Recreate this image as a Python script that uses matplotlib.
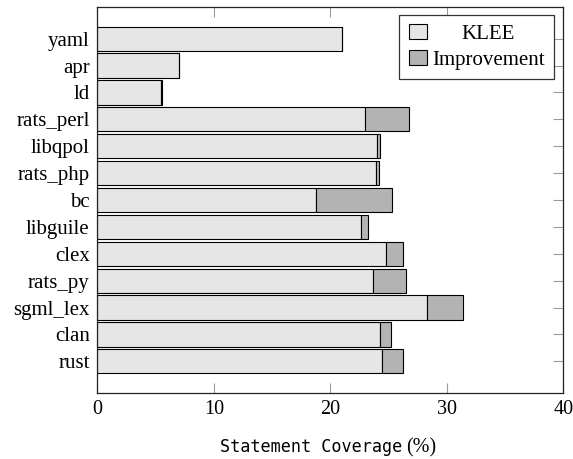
import matplotlib
matplotlib.use("Agg")
import matplotlib.pyplot as plt

# Data (top to bottom as shown)
categories = ["yaml", "apr", "ld", "rats_perl", "libqpol", "rats_php", "bc",
              "libguile", "clex", "rats_py", "sgml_lex", "clan", "rust"]
klee = [21.0, 7.0, 5.5, 23.0, 24.0, 23.9, 18.8, 22.6, 24.75, 23.7, 28.3, 24.25, 24.4]
improvement = [0.0, 0.0, 0.08, 3.75, 0.25, 0.25, 6.5, 0.65, 1.45, 2.8, 3.05, 1.0, 1.8]
xticks = [0, 10, 20, 30, 40]

serif = "Liberation Serif"
mono = "DejaVu Sans Mono"
fs = 15

fig = plt.figure(figsize=(5.73, 4.59), dpi=100)
ax = fig.add_axes([97.3 / 573, 1 - 393.3 / 459, (563.3 - 97.3) / 573, (393.3 - 6.7) / 459])

pos = list(range(len(categories)))
ax.barh(pos, klee, height=0.9, color="#e6e6e6", edgecolor="black", linewidth=0.8, label="KLEE")
ax.barh(pos, improvement, left=klee, height=0.9, color="#b3b3b3", edgecolor="black",
        linewidth=0.8, label="Improvement")

ax.set_yticks(pos)
ax.set_yticklabels(categories, fontfamily=serif, fontsize=fs)
ax.set_ylim(len(categories) - 1 + 1.19, -1.19)
ax.set_xlim(0, 40)
ax.set_xticks(xticks)
ax.set_xticklabels([str(v) for v in xticks], fontfamily=serif, fontsize=fs - 0.5)

tick_col = "#9a9a9a"
ax.tick_params(axis="y", left=False, right=True, labelleft=True, labelright=False,
               direction="in", length=7, width=0.8, color=tick_col, pad=5.5)
ax.tick_params(axis="x", top=True, bottom=True, direction="in", length=7, width=0.8,
               color=tick_col, pad=5)
for s in ax.spines.values():
    s.set_linewidth(0.9)
    s.set_color("#222222")

# x label: monospace words + serif (%)
base_y = (459 - 452) / 459
fig.text(402.5 / 573, base_y, "Statement Coverage", fontfamily=mono, fontsize=12.1,
         ha="right", va="baseline")
fig.text(406 / 573, base_y, "(%)", fontfamily=serif, fontsize=fs - 0.5, ha="left", va="baseline")

leg = ax.legend(loc="upper right", bbox_to_anchor=(554 / 573, 1 - 14.7 / 459),
                bbox_transform=fig.transFigure, borderaxespad=0,
                prop={"family": serif, "size": fs}, fancybox=False, framealpha=1,
                edgecolor="#333333", handlelength=0.87, handleheight=0.72,
                handletextpad=0.25, labelspacing=0.3, borderpad=0.45)
leg.get_frame().set_linewidth(0.9)

# center legend labels like the original
fig.canvas.draw()
r = fig.canvas.get_renderer()
texts = leg.get_texts()
widths = [t.get_window_extent(r).width for t in texts]
wmax = max(widths)
for t, w in zip(texts, widths):
    t.set_position(((wmax - w) / 2, 0))

fig.savefig("out.png", dpi=100)
